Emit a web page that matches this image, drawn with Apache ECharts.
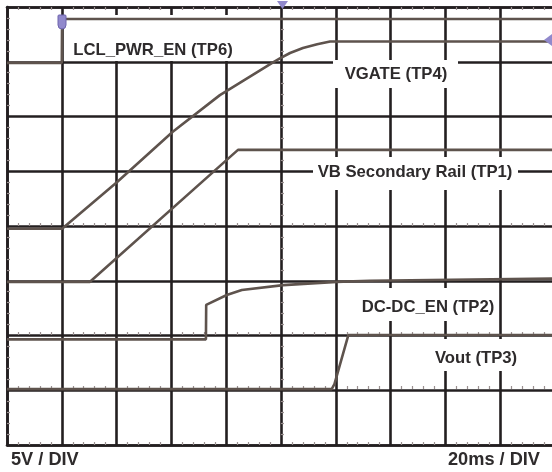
<!DOCTYPE html>
<html>
<head>
<meta charset="utf-8">
<script src="https://cdn.jsdelivr.net/npm/echarts@6/dist/echarts.min.js"></script>
<style>html,body{margin:0;padding:0;background:#fff}#c{width:552px;height:472px}</style>
</head>
<body>
<div id="c"></div>
<script>
// time in ms (20 ms / div), level in divisions (5 V / div)
const lclT   = [0, 20, 20.1, 200];
const lclV   = [6.98, 6.98, 7.78, 7.78];
const vgateT = [0, 20.1, 40.1, 60.5, 77.7, 97.1, 99.6, 103.3, 108.0, 113.2, 117.9, 200];
const vgateV = [3.95, 3.95, 4.80, 5.72, 6.39, 6.99, 7.06, 7.16, 7.25, 7.32, 7.37, 7.37];
const vbT    = [0, 30.3, 84.3, 200];
const vbV    = [2.98, 2.98, 5.39, 5.39];
const dcT    = [0, 72.6, 72.7, 80.2, 85.7, 100.8, 120.3, 132.5, 200];
const dcV    = [1.93, 1.93, 2.56, 2.74, 2.83, 2.92, 2.98, 3.00, 3.04];
const voutT  = [0, 118.5, 119.5, 124.6, 200];
const voutV  = [1.02, 1.02, 1.11, 2.01, 2.01];
const traceLabels = ['LCL_PWR_EN (TP6)', 'VGATE (TP4)', 'VB Secondary Rail (TP1)', 'DC-DC_EN (TP2)', 'Vout (TP3)'];
const scaleLabels = ['5V / DIV', '20ms / DIV'];

const pairs = (t, v) => t.map((x, i) => [x, v[i]]);
const GRID = '#231f20';
const TRACE = '#5e534d';
const TXT = '#2e2b2c';
const FONT_L = 'bold 16.7px "Liberation Sans", Arial, sans-serif';
const FONT_B = 'bold 18.2px "Liberation Sans", Arial, sans-serif';

function xAx(extra) {
  return Object.assign({
    type: 'value', min: 0, max: 200, interval: 20,
    axisLabel: {show: false},
    axisTick: {show: false, inside: true},
    axisLine: {show: false, onZero: false},
    splitLine: {show: false},
    minorTick: {show: true, splitNumber: 5, length: 3, lineStyle: {color: '#9a9090', width: 1.2}}
  }, extra);
}
function yAx(extra) {
  return Object.assign({
    type: 'value', min: 0, max: 8, interval: 1,
    axisLabel: {show: false},
    axisTick: {show: false, inside: true},
    axisLine: {show: false, onZero: false},
    splitLine: {show: false},
    minorTick: {show: true, splitNumber: 5, length: 3, lineStyle: {color: '#9a9090', width: 1.2}}
  }, extra);
}

const chart = echarts.init(document.getElementById('c'), null, {renderer: 'canvas'});
const line = (name, t, v) => ({
  name, type: 'line', data: pairs(t, v), showSymbol: false, symbol: 'none',
  xAxisIndex: 0, yAxisIndex: 0, z: 3,
  lineStyle: {color: TRACE, width: 2.6}, animation: false
});

chart.setOption({
  animation: false,
  grid: {left: 7, top: 7, right: -3, bottom: 27, outerBoundsMode: 'none', containLabel: false},
  xAxis: [
    xAx({position: 'bottom', axisLine: {show: true, onZero: false, lineStyle: {color: GRID, width: 2.6}},
         splitLine: {show: true, lineStyle: {color: GRID, width: 2.6}}}),
    xAx({position: 'top', axisLine: {show: true, onZero: false, lineStyle: {color: GRID, width: 2.6}}}),
    xAx({position: 'bottom', offset: -219}),
    xAx({position: 'bottom', offset: -113, axisTick: {show: false, inside: false}}),
    xAx({position: 'bottom', offset: -59, axisTick: {show: false, inside: false}})
  ],
  yAxis: [
    yAx({position: 'left', axisLine: {show: true, onZero: false, lineStyle: {color: GRID, width: 2.6}},
         splitLine: {show: true, lineStyle: {color: GRID, width: 2.6}}}),
    yAx({position: 'left', offset: -274})
  ],
  series: [
    line('LCL_PWR_EN', lclT, lclV),
    line('VGATE', vgateT, vgateV),
    line('VB', vbT, vbV),
    line('DC-DC_EN', dcT, dcV),
    line('Vout', voutT, voutV)
  ],
  graphic: [
    // white label boxes that break the grid
    {type: 'rect', z: 1, shape: {x: 66, y: 15, width: 174, height: 46}, style: {fill: '#fff'}},
    {type: 'rect', z: 1, shape: {x: 333, y: 60, width: 125, height: 28}, style: {fill: '#fff'}},
    {type: 'rect', z: 1, shape: {x: 313, y: 157, width: 205, height: 33}, style: {fill: '#fff'}},
    {type: 'rect', z: 1, shape: {x: 356, y: 288, width: 143, height: 33}, style: {fill: '#fff'}},
    {type: 'rect', z: 1, shape: {x: 428, y: 339, width: 96, height: 32}, style: {fill: '#fff'}},
    {type: 'text', z: 5, x: 153, y: 50, style: {text: traceLabels[0], font: FONT_L, fill: TXT, textAlign: 'center', textVerticalAlign: 'middle'}},
    {type: 'text', z: 5, x: 396, y: 74, style: {text: traceLabels[1], font: FONT_L, fill: TXT, textAlign: 'center', textVerticalAlign: 'middle'}},
    {type: 'text', z: 5, x: 415, y: 172, style: {text: traceLabels[2], font: FONT_L, fill: TXT, textAlign: 'center', textVerticalAlign: 'middle'}},
    {type: 'text', z: 5, x: 428, y: 307, style: {text: traceLabels[3], font: FONT_L, fill: TXT, textAlign: 'center', textVerticalAlign: 'middle'}},
    {type: 'text', z: 5, x: 476, y: 358, style: {text: traceLabels[4], font: FONT_L, fill: TXT, textAlign: 'center', textVerticalAlign: 'middle'}},
    {type: 'text', z: 5, x: 11, y: 460, style: {text: scaleLabels[0], font: FONT_B, fill: TXT, textAlign: 'left', textVerticalAlign: 'middle'}},
    {type: 'text', z: 5, x: 540, y: 460, style: {text: scaleLabels[1], font: FONT_B, fill: TXT, textAlign: 'right', textVerticalAlign: 'middle'}},
    // scope markers
    {type: 'rect', z: 6, shape: {x: 58, y: 15, width: 8, height: 14, r: [1, 1, 4, 4]}, style: {fill: '#9189cc', stroke: '#6e64ad', lineWidth: 1}},
    {type: 'polygon', z: 6, shape: {points: [[277, 1], [288, 1], [282.5, 9]]}, style: {fill: '#9189cc'}},
    {type: 'polygon', z: 6, shape: {points: [[544, 40], [552, 34], [552, 46]]}, style: {fill: '#9189cc'}}
  ]
});
</script>
</body>
</html>
